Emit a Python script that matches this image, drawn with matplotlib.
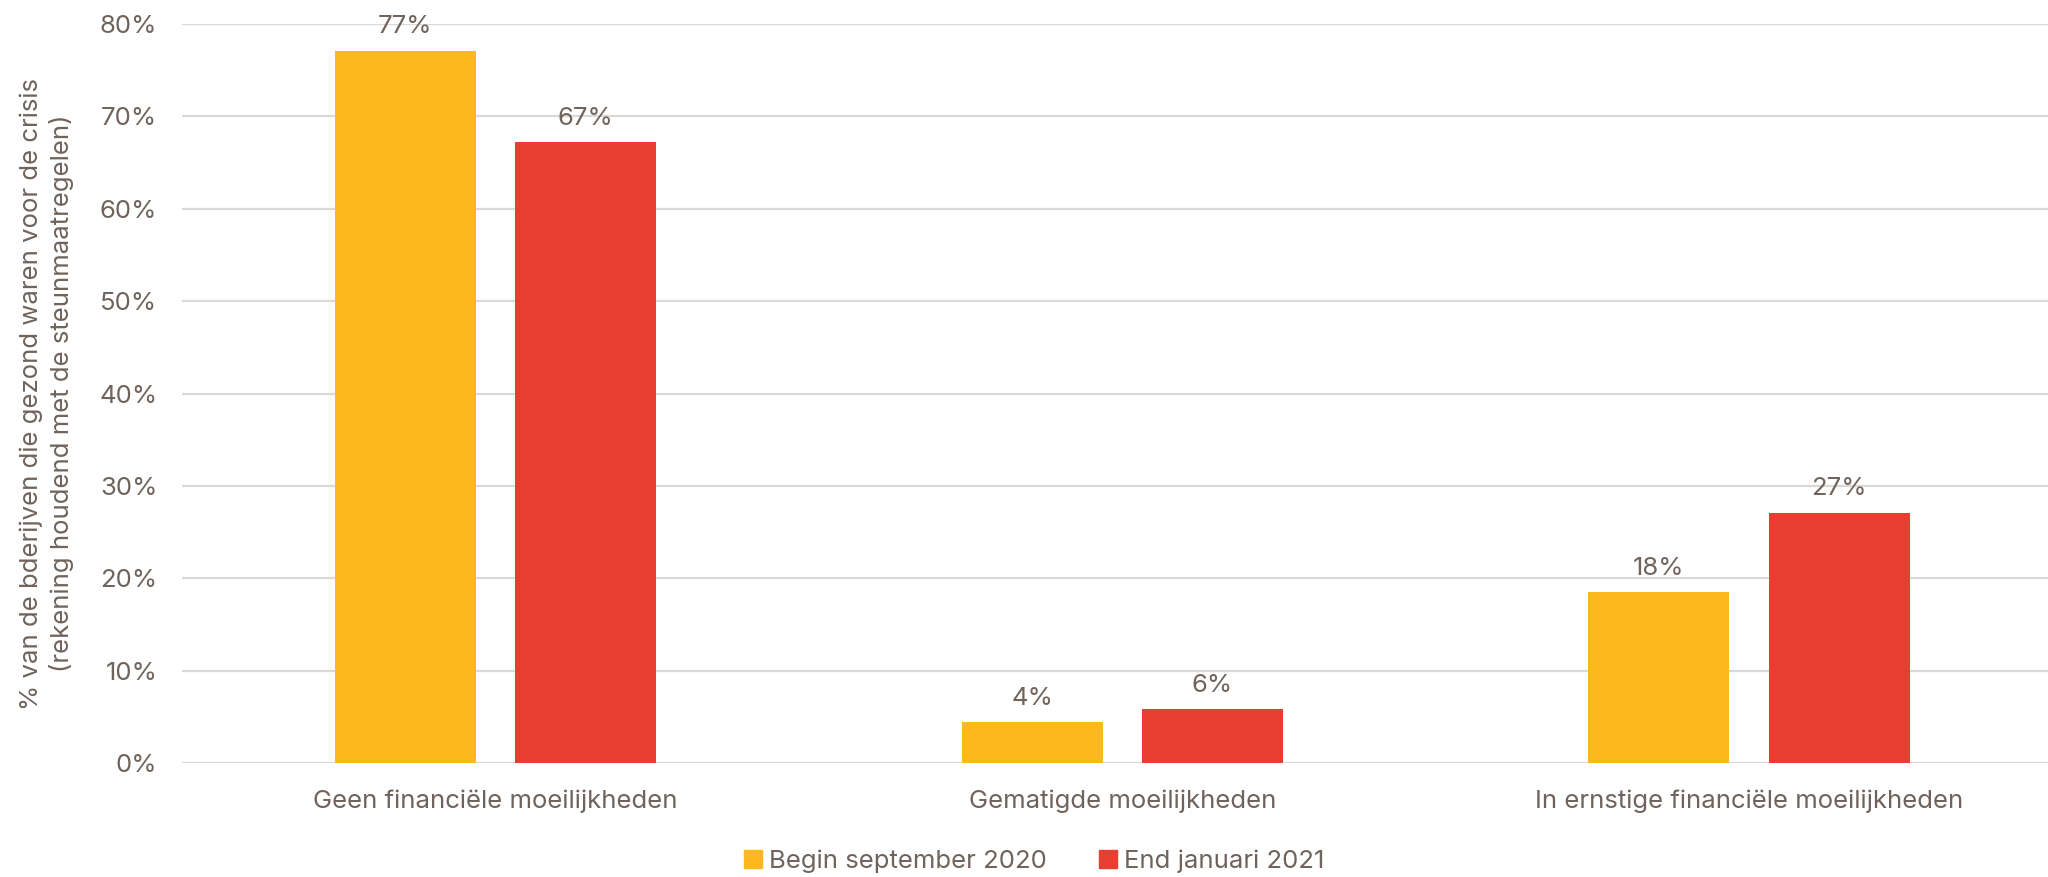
import matplotlib

matplotlib.use("Agg")
import matplotlib.pyplot as plt
import numpy as np
from matplotlib.patches import Patch

categories = ["Geen financiële moeilijkheden", "Gematigde moeilijkheden", "In ernstige financiële moeilijkheden"]
series_names = ["Begin september 2020", "End januari 2021"]
sept_2020 = [77.1, 4.4, 18.5]
jan_2021 = [67.2, 5.8, 27.1]
label_sept = ["77%", "4%", "18%"]
label_jan = ["67%", "6%", "27%"]
yticks = [0, 10, 20, 30, 40, 50, 60, 70, 80]

text_color = "#6f635b"
grid_color = "#dcd8d5"
colors = ["#fdb81e", "#e63e31"]

plt.rcParams["font.family"] = ["Inter", "DejaVu Sans"]
fs = 18.5

fig = plt.figure(figsize=(20.48, 8.77), dpi=100)
ax = fig.add_axes([0.089, 0.130, 0.918, 0.8426])

x = np.arange(len(categories))
width = 0.225
offset = 0.144
b1 = ax.bar(x - offset, sept_2020, width, color=colors[0], zorder=2)
b2 = ax.bar(x + offset, jan_2021, width, color=colors[1], zorder=2)

for bars, labels in ((b1, label_sept), (b2, label_jan)):
    for rect, lab in zip(bars, labels):
        ax.annotate(lab, (rect.get_x() + rect.get_width() / 2, rect.get_height()),
                    xytext=(0, 9), textcoords="offset points", ha="center", va="bottom",
                    color=text_color, fontsize=fs)

ax.set_xlim(-0.5, 2.5)
ax.set_ylim(0, 80)
ax.set_yticks(yticks, [f"{t}%" for t in yticks])
ax.set_xticks(x, categories)
ax.tick_params(axis="y", colors=text_color, labelsize=fs, length=0, pad=18)
ax.tick_params(axis="x", colors=text_color, labelsize=fs, length=0, pad=19)
ax.grid(axis="y", color=grid_color, linewidth=1.6, zorder=0)
ax.set_axisbelow(True)
for spine in ax.spines.values():
    spine.set_visible(False)

ax.set_ylabel("% van de bderijven die gezond waren voor de crisis\n(rekening houdend met de steunmaatregelen)",
              color=text_color, fontsize=fs, labelpad=18, linespacing=1.3)

handles = [Patch(color=c) for c in colors]
fig.legend(handles, series_names, loc="lower center", bbox_to_anchor=(0.505, -0.022), ncol=2,
           frameon=False, fontsize=fs, labelcolor=text_color, handlelength=0.7, handleheight=0.7,
           handletextpad=0.3, columnspacing=2.0)

fig.savefig("out.png", dpi=100, facecolor="white")
